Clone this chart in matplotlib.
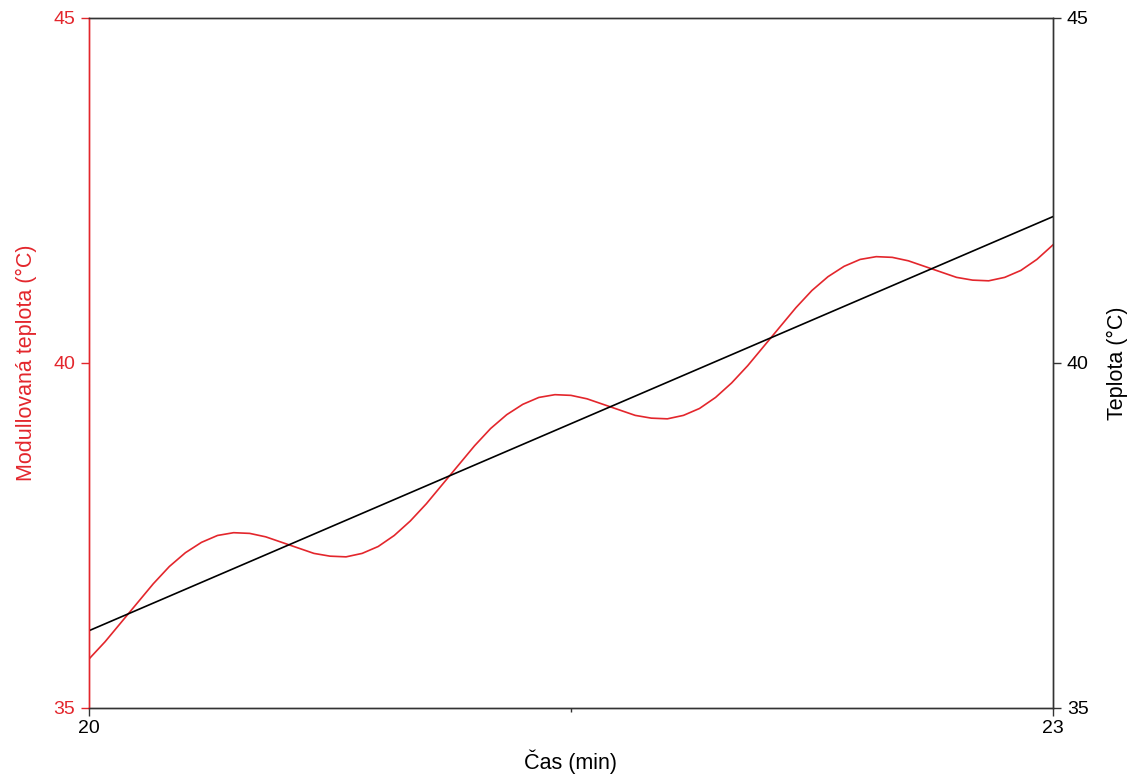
import numpy as np
import matplotlib.pyplot as plt
from matplotlib.ticker import FixedLocator

plt.rcParams['font.family'] = ['Liberation Sans', 'DejaVu Sans']

red = '#e3262c'
dark = '#333333'

# time (min), read every 0.05 min
cas = [20.00, 20.05, 20.10, 20.15, 20.20, 20.25, 20.30, 20.35, 20.40, 20.45,
       20.50, 20.55, 20.60, 20.65, 20.70, 20.75, 20.80, 20.85, 20.90, 20.95,
       21.00, 21.05, 21.10, 21.15, 21.20, 21.25, 21.30, 21.35, 21.40, 21.45,
       21.50, 21.55, 21.60, 21.65, 21.70, 21.75, 21.80, 21.85, 21.90, 21.95,
       22.00, 22.05, 22.10, 22.15, 22.20, 22.25, 22.30, 22.35, 22.40, 22.45,
       22.50, 22.55, 22.60, 22.65, 22.70, 22.75, 22.80, 22.85, 22.90, 22.95,
       23.00]
mod_teplota = [35.71, 35.96, 36.24, 36.52, 36.80, 37.05, 37.25, 37.40, 37.50, 37.54,
               37.53, 37.48, 37.40, 37.32, 37.24, 37.20, 37.19, 37.24, 37.34, 37.50,
               37.71, 37.96, 38.24, 38.52, 38.80, 39.05, 39.25, 39.40, 39.50, 39.54,
               39.53, 39.48, 39.40, 39.32, 39.24, 39.20, 39.19, 39.24, 39.34, 39.50,
               39.71, 39.96, 40.24, 40.52, 40.80, 41.05, 41.25, 41.40, 41.50, 41.54,
               41.53, 41.48, 41.40, 41.32, 41.24, 41.20, 41.19, 41.24, 41.34, 41.50,
               41.71]

cas_lin = [20.0, 23.0]
teplota = [36.12, 42.12]

fig = plt.figure(figsize=(11.34, 7.78), dpi=100)
ax = fig.add_axes([0.0785, 0.09, 0.85, 0.887])
ax2 = ax.twinx()

ax.plot(cas, mod_teplota, color=red, lw=1.2)
ax2.plot(cas_lin, teplota, color='black', lw=1.2)

for a in (ax, ax2):
    a.set_xlim(20, 23)
    a.set_ylim(35, 45)
    a.set_yticks([35, 40, 45])
    for s in a.spines.values():
        s.set_color(dark)
        s.set_linewidth(1.0)

ax.spines['left'].set_color(red)
ax2.spines['left'].set_color(red)

ax.set_xticks([20, 23])
ax.xaxis.set_minor_locator(FixedLocator([21.5]))
ax.tick_params(axis='x', which='major', length=6, width=1, color=dark, labelsize=14, pad=3)
ax.tick_params(axis='x', which='minor', length=3, width=1, color=dark)
ax.tick_params(axis='y', length=6, width=1, colors=red, labelsize=14, pad=4)
ax2.tick_params(axis='y', length=6, width=1, color=dark, labelcolor='black', labelsize=14, pad=4)

ax.set_xlabel('Čas (min)', fontsize=15.5, labelpad=9)
ax.set_ylabel('Modullovaná teplota (°C)', fontsize=15.5, color=red, labelpad=12)
ax2.set_ylabel('Teplota (°C)', fontsize=15.5, labelpad=13)

fig.savefig('out.png', dpi=100)
